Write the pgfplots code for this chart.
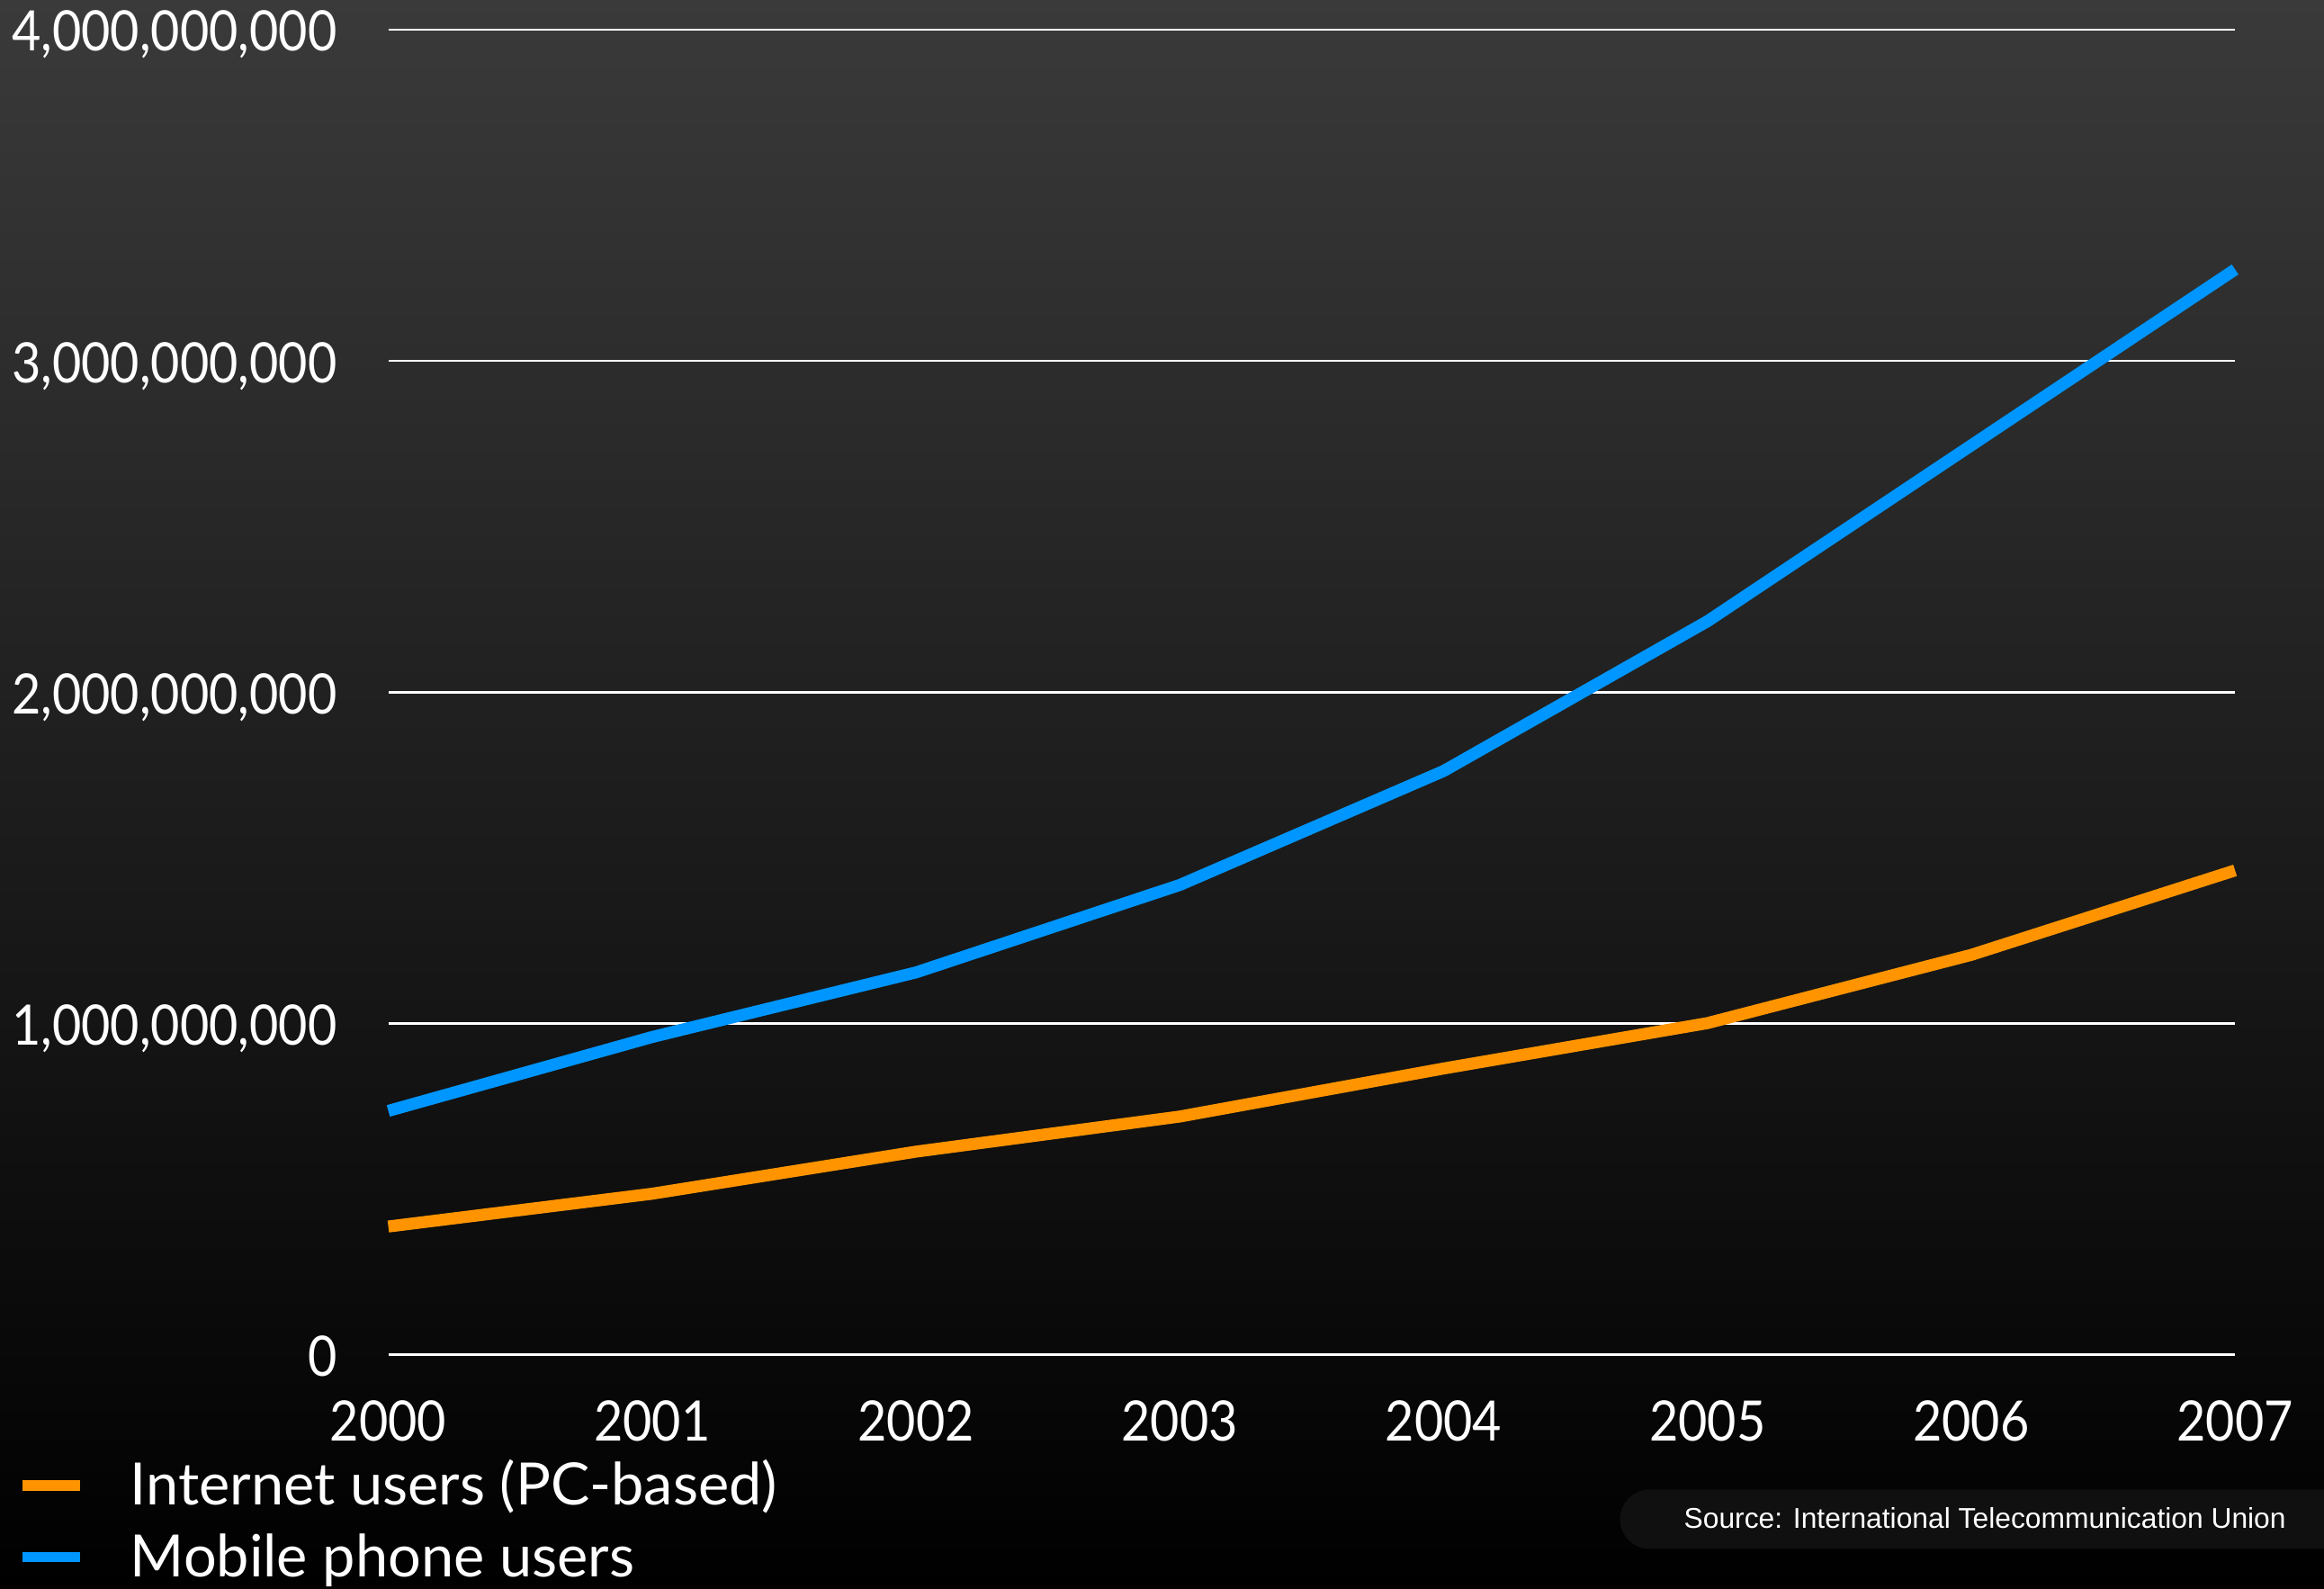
\documentclass[border=0pt]{standalone}
\usepackage{pgfplots}
\pgfplotsset{compat=1.18}
\usepackage{fontspec}
\setmainfont{Lato}[FakeStretch=0.9]
\newfontfamily\gill{Lato}[FakeStretch=0.9]
\newfontfamily\gillwide{Lato}
\newfontfamily\arial{Liberation Sans}
\definecolor{bgtop}{RGB}{58,58,58}
\definecolor{orangec}{RGB}{255,148,0}
\definecolor{bluec}{RGB}{0,150,255}
\definecolor{boxc}{RGB}{16,16,16}
\begin{document}
\begin{tikzpicture}
\shade[top color=bgtop, bottom color=black] (0,0) rectangle (156.8mm,107.2mm);
\useasboundingbox (0,0) rectangle (156.8mm,107.2mm);
\fill[boxc, rounded corners=2mm] (109.3mm,2.7mm) rectangle (162mm,6.7mm);
\node[anchor=base east, inner sep=0pt, text=white, font=\arial\fontsize{5.49}{7}\selectfont] at (154.3mm,4.09mm) {Source: International Telecommunication Union};
\begin{axis}[
  at={(26.2mm,15.8mm)}, anchor=south west,
  scale only axis, width=124.6mm, height=89.4mm,
  xmin=2000, xmax=2007, ymin=0, ymax=4000000000,
  axis line style={draw=none}, tick style={draw=none},
  xtick={2000,2001,2002,2003,2004,2005,2006,2007},
  xticklabels={2000,2001,2002,2003,2004,2005,2006,2007},
  ytick={0,1000000000,2000000000,3000000000,4000000000},
  yticklabels={0,{1,000,000,000},{2,000,000,000},{3,000,000,000},{4,000,000,000}},
  ymajorgrids, grid style={white, line width=0.45pt},
  ticklabel style={text=white, font=\gill\fontsize{10.7}{12}\selectfont},
  yticklabel style={inner sep=0pt, anchor=east, text height=2.7mm, text depth=0mm, xshift=-3.4mm, yshift=-0.11mm},
  xticklabel style={inner sep=0pt, yshift=-3.0mm},
  clip=false,
  legend cell align=left,
  legend style={at={(axis description cs:-0.2009,-0.0709)}, anchor=north west,
    draw=none, fill=none, inner sep=0pt, outer sep=0pt, row sep=0.48mm,
    font=\gillwide\fontsize{11.2}{13}\selectfont, text=white,
    nodes={inner sep=0pt, text=white},
    /tikz/every odd column/.append style={column sep=3.05mm},
    /tikz/every even column/.append style={text height=3.82mm, text depth=1mm}},
  legend image code/.code={\draw[line width=0.7mm] (0mm,-0.3mm) -- (3.87mm,-0.3mm);},
]
\addplot[color=orangec, line width=2.3pt, line join=round] coordinates {
 (2000,387000000) (2001,486000000) (2002,613000000) (2003,719000000)
 (2004,864000000) (2005,1001000000) (2006,1207000000) (2007,1462000000)};
\addlegendentry{Internet users (PC-based)}
\addplot[color=bluec, line width=2.3pt, line join=round] coordinates {
 (2000,736000000) (2001,959000000) (2002,1154000000) (2003,1418000000)
 (2004,1762000000) (2005,2214000000) (2006,2745000000) (2007,3276000000)};
\addlegendentry{Mobile phone users}
\end{axis}
\end{tikzpicture}
\end{document}
